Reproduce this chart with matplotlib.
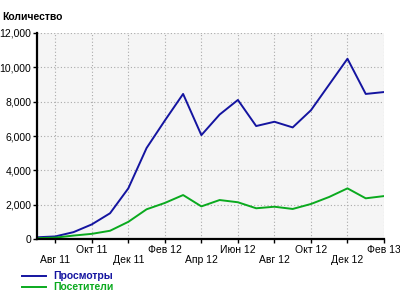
import matplotlib
matplotlib.use("Agg")
import matplotlib.pyplot as plt
from matplotlib.ticker import FuncFormatter, MultipleLocator

plt.rcParams['font.family'] = ['Liberation Sans', 'DejaVu Sans']

months = list(range(20))  # Jul 11 .. Feb 13
views = [100, 150, 400, 850, 1500, 2950, 5300, 6900, 8450, 6050, 7250, 8100,
         6580, 6830, 6500, 7500, 9000, 10500, 8450, 8560]
visitors = [50, 80, 200, 300, 480, 1000, 1730, 2100, 2560, 1900, 2270, 2140,
            1790, 1880, 1750, 2040, 2450, 2950, 2370, 2500]
tick_pos = [1, 3, 5, 7, 9, 11, 13, 15, 17, 19]
tick_labels = ["Авг 11", "Окт 11", "Дек 11", "Фев 12", "Апр 12", "Июн 12",
               "Авг 12", "Окт 12", "Дек 12", "Фев 13"]
series_names = ["Просмотры", "Посетители"]
y_title = "Количество"

blue = "#1414a0"
green = "#0aaa1e"

fig = plt.figure(figsize=(4, 3), dpi=100)
ax = fig.add_axes([37/400, 1-239/300, (384-37)/400, (239-33)/300])
ax.set_facecolor("#f5f5f5")
ax.plot(months, views, color=blue, lw=1.4)
ax.plot(months, visitors, color=green, lw=1.4)
ax.set_xlim(0, 19)
ax.set_ylim(0, 12000)
ax.yaxis.set_major_locator(MultipleLocator(2000))
ax.yaxis.set_major_formatter(FuncFormatter(lambda v, p: f"{int(v):,}"))
ax.set_xticks(tick_pos)
ax.set_xticklabels(tick_labels)
for i, t in enumerate(ax.get_xticklabels()):
    if i % 2 == 0:
        t.set_y(-0.053)
ax.grid(True, color="#aaaaaa", linestyle=(0, (1, 2)), lw=0.8)
ax.set_axisbelow(True)
for s in ["top", "right"]:
    ax.spines[s].set_visible(False)
ax.spines["left"].set_linewidth(1.6)
ax.spines["bottom"].set_linewidth(1.6)
ax.tick_params(axis="both", labelsize=7.5, length=3, width=1, color="black")
ax.tick_params(axis="x", pad=1)
ax.tick_params(axis="y", pad=1)

fig.text(2/400, 1-17/300, y_title, fontsize=7.5, fontweight="bold", va="center", ha="left")

for i, (name, col) in enumerate(zip(series_names, [blue, green])):
    y = 1 - (276 + i*11)/300
    fig.add_artist(plt.Line2D([22/400, 46/400], [y, y], color=col, lw=1.4,
                              transform=fig.transFigure))
    fig.text(53/400, y, name, color=col, fontsize=7.5, fontweight="bold",
             va="center", ha="left")

fig.savefig("out.png", dpi=100)
